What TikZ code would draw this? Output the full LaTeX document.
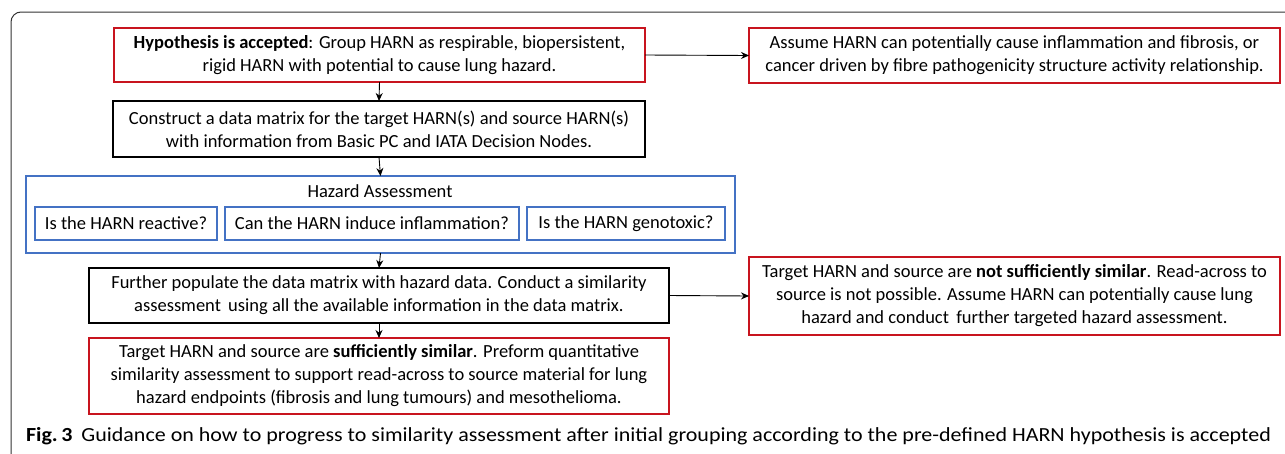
\documentclass[tikz,border=0pt]{standalone}
\usepackage{fontspec}
\setmainfont{Carlito}
\usetikzlibrary{arrows.meta}
\definecolor{boxred}{RGB}{200,20,30}
\definecolor{boxblue}{RGB}{68,114,196}
\begin{document}
\begin{tikzpicture}[x=1pt,y=-1pt,
  every node/.style={inner sep=0pt,outer sep=0pt},
  txt/.style={font=\fontsize{18.5}{23}\selectfont,align=center},
  redbox/.style={txt,draw=boxred,line width=1.6pt},
  blackbox/.style={txt,draw=black,line width=1.6pt},
  bluebox/.style={txt,draw=boxblue,line width=1.4pt},
  conn/.style={draw=black,line width=0.9pt,-{Stealth[length=8pt,width=7pt]}}]
\useasboundingbox (0,0) rectangle (1285,453);
\draw[line width=1pt,rounded corners=10pt,draw=black!80] (11,12) rectangle (1310,480);
\node[redbox,minimum width=531pt,minimum height=54pt] (hyp) at (379.5,55)
  {\textbf{Hypothesis is accepted}: Group HARN as respirable, biopersistent,\\rigid HARN with potential to cause lung hazard.};
\node[redbox,minimum width=531pt,minimum height=55pt] (assume) at (1014.5,55.5)
  {Assume HARN can potentially cause inflammation and fibrosis, or\\cancer driven by fibre pathogenicity structure activity relationship.};
\node[blackbox,minimum width=532pt,minimum height=56pt] (construct) at (379,129)
  {Construct a data matrix for the target HARN(s) and source HARN(s)\\with information from Basic PC and IATA Decision Nodes.};
\node[bluebox,minimum width=709pt,minimum height=77pt] (haz) at (380.5,214.5) {};
\node[txt] (haztitle) at (380,191) {Hazard Assessment};
\node[bluebox,minimum width=182pt,minimum height=33pt] (q1) at (126,223.5) {Is the HARN reactive?};
\node[bluebox,minimum width=294pt,minimum height=33pt] (q2) at (372,223.5) {Can the HARN induce inflammation?};
\node[bluebox,minimum width=198pt,minimum height=33pt] (q3) at (626,223.5) {Is the HARN genotoxic?};
\node[blackbox,minimum width=580pt,minimum height=55pt] (further) at (379,295.5)
  {Further populate the data matrix with hazard data. Conduct a similarity\\assessment\, using all the available information in the data matrix.};
\node[redbox,minimum width=531pt,minimum height=78pt] (notsim) at (1014.5,296)
  {Target HARN and source are \textbf{not sufficiently similar}. Read-across to\\source is not possible. Assume HARN can potentially cause lung\\hazard and conduct\, further targeted hazard assessment.};
\node[redbox,minimum width=580pt,minimum height=76pt] (sim) at (379,376)
  {Target HARN and source are \textbf{sufficiently similar}. Preform quantitative\\similarity assessment to support read-across to source material for lung\\hazard endpoints (fibrosis and lung tumours) and mesothelioma.};
\node[anchor=base west,font=\fontsize{20}{24}\selectfont] (cap) at (26,441.5)
  {\scalebox{1.1}[1]{\textbf{Fig.\,3}\hspace{8pt}Guidance on how to progress to similarity assessment after initial grouping according to the pre-defined HARN hypothesis is accepted}};
\draw[conn] (hyp.south) -- (construct.north);
\draw[conn] (construct.south) -- (haz.north);
\draw[conn] (haz.south) -- (further.north);
\draw[conn] (further.south) -- (sim.north);
\draw[conn] (hyp.east) -- (assume.west);
\draw[conn] (further.east) -- (notsim.west);
\end{tikzpicture}
\end{document}
